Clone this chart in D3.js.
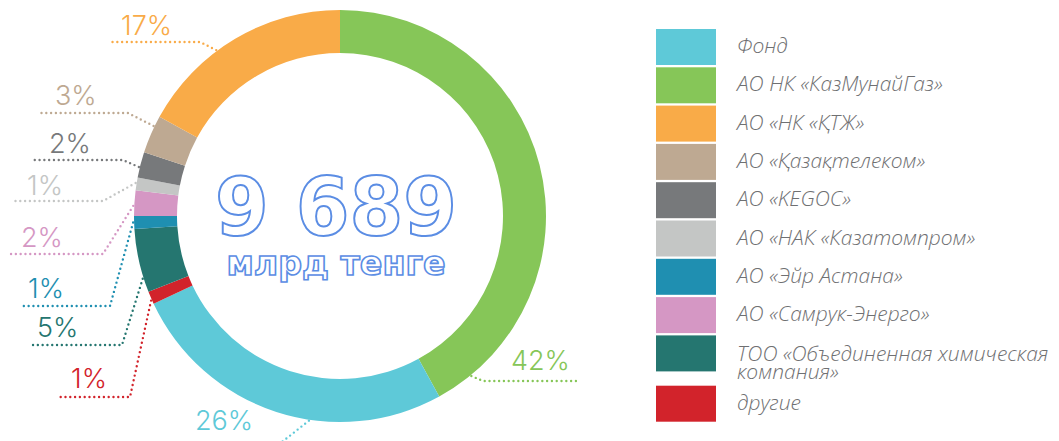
<!DOCTYPE html>
<html>
<head>
<meta charset="utf-8">
<script src="https://cdn.jsdelivr.net/npm/d3@7"></script>
<style>
  body { margin: 0; background: #fff; }
  svg { display: block; }
</style>
</head>
<body>
<svg width="1059" height="441"></svg>
<script>
// ring order, clockwise from 12 o'clock
var names = ['АО НК «КазМунайГаз»', 'Фонд', 'другие', 'ТОО «Объединенная химическая компания»',
    'АО «Эйр Астана»', 'АО «Самрук-Энерго»', 'АО «НАК «Казатомпром»', 'АО «KEGOC»',
    'АО «Қазақтелеком»', 'АО «НК «ҚТЖ»'];
var shares = [42, 26, 1, 5, 1, 2, 1, 2, 3, 17];
var colors = ['#86c658', '#5ec9d8', '#d2232b', '#257670', '#1f8fb1', '#d597c4', '#c4c6c5',
    '#77797b', '#bea992', '#f9ab48'];

// legend order (top to bottom), with line breaks
var legendNames = ['Фонд', 'АО НК «КазМунайГаз»', 'АО «НК «ҚТЖ»', 'АО «Қазақтелеком»', 'АО «KEGOC»',
    'АО «НАК «Казатомпром»', 'АО «Эйр Астана»', 'АО «Самрук-Энерго»',
    'ТОО «Объединенная химическая компания»', 'другие'];
var legendLines = {
    'ТОО «Объединенная химическая компания»': ['ТОО «Объединенная химическая', 'компания»']
};

var totalText = '9 689';
var unitText = 'млрд тенге';

/**************************************************************************/
// where each percent label sits (same order as the ring)
// at = fraction along the slice where the leader touches the ring
var labelLayout = [
    {at: 0.93, ex: 483, ey: 381, x1: 578, tx: 511, ty: 370},
    {at: 0.40, ex: 277, ey: 446, x1: 277, tx: 195, ty: 430},
    {at: 0.30, ex: 130, ey: 397, x1: 59, tx: 71, ty: 388},
    {at: 0.22, ex: 122, ey: 345, x1: 33, tx: 37, ty: 337},
    {at: 0.50, ex: 110, ey: 306, x1: 22, tx: 28, ty: 298},
    {at: 0.39, ex: 103, ey: 254, x1: 9, tx: 21, ty: 247},
    {at: 0.55, ex: 103, ey: 201, x1: 11, tx: 27, ty: 195},
    {at: 0.40, ex: 123, ey: 160, x1: 31, tx: 49, ty: 153},
    {at: 0.72, ex: 128, ey: 113, x1: 37, tx: 55, ty: 105},
    {at: 0.40, ex: 200, ey: 42, x1: 108, tx: 121, ty: 35}
];
/**************************************************************************/

var cx = 340, cy = 216;
var outerR = 206, innerR = 163;

var svg = d3.select('svg');

var pie = d3.pie().sort(null).value(function(d) { return d; });
var arcs = pie(shares);
var arc = d3.arc().innerRadius(innerR).outerRadius(outerR);

var ring = svg.append('g')
    .attr('transform', 'translate(' + [cx, cy] + ')');

ring.selectAll('path')
    .data(arcs).enter().append('path')
    .attr('d', arc)
    .attr('fill', function(d, i) { return colors[i]; });

// leaders
var line = d3.line();
svg.selectAll('path.leader')
    .data(arcs).enter().append('path')
    .classed('leader', true)
    .attr('fill', 'none')
    .attr('stroke', function(d, i) { return colors[i]; })
    .attr('stroke-width', 2.4)
    .attr('stroke-linecap', 'round')
    .attr('stroke-dasharray', '0,4.8')
    .attr('d', function(d, i) {
        var L = labelLayout[i];
        var a = d.startAngle + (d.endAngle - d.startAngle) * L.at;
        var p = d3.pointRadial(a, outerR + 1);
        return line([[cx + p[0], cy + p[1]], [L.ex, L.ey], [L.x1, L.ey]]);
    });

svg.selectAll('text.pct')
    .data(arcs).enter().append('text')
    .classed('pct', true)
    .attr('x', function(d, i) { return labelLayout[i].tx; })
    .attr('y', function(d, i) { return labelLayout[i].ty; })
    .attr('fill', function(d, i) { return colors[i]; })
    .style('font-family', 'Inter, "Open Sans", sans-serif')
    .style('font-weight', 300)
    .style('font-size', '27px')
    .text(function(d) { return d.data + '%'; });

// centre total
svg.append('text')
    .attr('x', 336).attr('y', 235)
    .attr('text-anchor', 'middle')
    .attr('textLength', 242).attr('lengthAdjust', 'spacingAndGlyphs')
    .style('font-family', '"DejaVu Sans", sans-serif')
    .style('font-weight', 'bold')
    .style('font-size', '80px')
    .attr('fill', '#fff')
    .attr('stroke', '#5b8de4')
    .attr('stroke-width', 2)
    .text(totalText);

svg.append('text')
    .attr('x', 336).attr('y', 275)
    .attr('text-anchor', 'middle')
    .attr('textLength', 219).attr('lengthAdjust', 'spacingAndGlyphs')
    .style('font-family', '"DejaVu Sans", sans-serif')
    .style('font-weight', 'bold')
    .style('font-size', '33px')
    .attr('fill', '#fff')
    .attr('stroke', '#5b8de4')
    .attr('stroke-width', 1.6)
    .text(unitText);

// legend
var legendY = function(i) { return 29 + i * 38.3 + (i === 9 ? 12 : 0); };
var legend = svg.selectAll('g.legend')
    .data(legendNames).enter().append('g')
    .classed('legend', true)
    .attr('transform', function(d, i) { return 'translate(' + [656, legendY(i)] + ')'; });

legend.append('rect')
    .attr('width', 60).attr('height', 36)
    .attr('fill', function(d) { return colors[names.indexOf(d)]; });

legend.append('text')
    .attr('x', 81)
    .attr('y', function(d) { return legendLines[d] ? 26 : 24; })
    .attr('fill', '#6f7072')
    .style('font-family', '"Open Sans", sans-serif')
    .style('font-style', 'italic')
    .style('font-weight', 300)
    .style('font-size', '21px')
    .selectAll('tspan')
    .data(function(d) { return legendLines[d] || [d]; })
    .enter().append('tspan')
    .attr('x', 81)
    .attr('dy', function(d, i) { return i ? 18 : 0; })
    .text(function(d) { return d; });
</script>
</body>
</html>
